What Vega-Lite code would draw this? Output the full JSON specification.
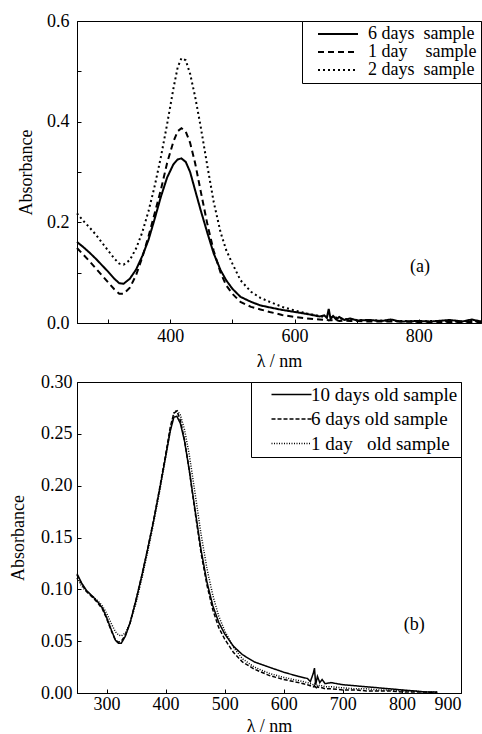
{
  "$schema": "https://vega.github.io/schema/vega-lite/v6.json",
  "padding": {"left": 9, "top": 11, "right": 0, "bottom": 0},
  "config": {
    "font": "Liberation Serif",
    "view": {"stroke": "black", "strokeWidth": 1},
    "axis": {"labelFont": "Liberation Serif", "labelFontSize": 18, "titleFont": "Liberation Serif", "titleFontSize": 18, "titleFontWeight": "normal", "labelColor": "black", "titleColor": "black", "domainColor": "black", "tickColor": "black", "grid": false}
  },
  "datasets": {
    "a": [
      {"wl": 250, "s6": 0.161, "s1": 0.149, "s2": 0.218},
      {"wl": 260, "s6": 0.151, "s1": 0.136, "s2": 0.203},
      {"wl": 270, "s6": 0.140, "s1": 0.123, "s2": 0.190},
      {"wl": 280, "s6": 0.128, "s1": 0.109, "s2": 0.176},
      {"wl": 290, "s6": 0.115, "s1": 0.095, "s2": 0.160},
      {"wl": 300, "s6": 0.102, "s1": 0.081, "s2": 0.144},
      {"wl": 310, "s6": 0.088, "s1": 0.067, "s2": 0.128},
      {"wl": 318, "s6": 0.079, "s1": 0.058, "s2": 0.118},
      {"wl": 325, "s6": 0.078, "s1": 0.058, "s2": 0.116},
      {"wl": 335, "s6": 0.088, "s1": 0.070, "s2": 0.125},
      {"wl": 345, "s6": 0.106, "s1": 0.095, "s2": 0.148},
      {"wl": 355, "s6": 0.133, "s1": 0.130, "s2": 0.180},
      {"wl": 365, "s6": 0.165, "s1": 0.172, "s2": 0.222},
      {"wl": 375, "s6": 0.207, "s1": 0.218, "s2": 0.272},
      {"wl": 385, "s6": 0.251, "s1": 0.265, "s2": 0.330},
      {"wl": 395, "s6": 0.289, "s1": 0.318, "s2": 0.395},
      {"wl": 405, "s6": 0.315, "s1": 0.360, "s2": 0.465},
      {"wl": 412, "s6": 0.325, "s1": 0.381, "s2": 0.508},
      {"wl": 418, "s6": 0.327, "s1": 0.387, "s2": 0.526},
      {"wl": 425, "s6": 0.320, "s1": 0.380, "s2": 0.522},
      {"wl": 432, "s6": 0.300, "s1": 0.358, "s2": 0.495},
      {"wl": 440, "s6": 0.264, "s1": 0.318, "s2": 0.450},
      {"wl": 449, "s6": 0.224, "s1": 0.262, "s2": 0.390},
      {"wl": 460, "s6": 0.178, "s1": 0.195, "s2": 0.310},
      {"wl": 470, "s6": 0.138, "s1": 0.143, "s2": 0.240},
      {"wl": 481, "s6": 0.105, "s1": 0.100, "s2": 0.180},
      {"wl": 490, "s6": 0.085, "s1": 0.075, "s2": 0.145},
      {"wl": 500, "s6": 0.068, "s1": 0.058, "s2": 0.118},
      {"wl": 513, "s6": 0.052, "s1": 0.042, "s2": 0.085},
      {"wl": 530, "s6": 0.042, "s1": 0.032, "s2": 0.062},
      {"wl": 545, "s6": 0.035, "s1": 0.027, "s2": 0.050},
      {"wl": 560, "s6": 0.031, "s1": 0.022, "s2": 0.042},
      {"wl": 580, "s6": 0.026, "s1": 0.016, "s2": 0.032},
      {"wl": 600, "s6": 0.022, "s1": 0.012, "s2": 0.025},
      {"wl": 620, "s6": 0.018, "s1": 0.009, "s2": 0.019},
      {"wl": 640, "s6": 0.013, "s1": 0.007, "s2": 0.014},
      {"wl": 648, "s6": 0.015, "s1": 0.006, "s2": 0.012},
      {"wl": 652, "s6": 0.010, "s1": 0.007, "s2": 0.013},
      {"wl": 655, "s6": 0.028, "s1": 0.005, "s2": 0.011},
      {"wl": 658, "s6": 0.008, "s1": 0.006, "s2": 0.012},
      {"wl": 662, "s6": 0.014, "s1": 0.005, "s2": 0.010},
      {"wl": 667, "s6": 0.007, "s1": 0.006, "s2": 0.011},
      {"wl": 672, "s6": 0.012, "s1": 0.004, "s2": 0.009},
      {"wl": 680, "s6": 0.006, "s1": 0.005, "s2": 0.008},
      {"wl": 690, "s6": 0.009, "s1": 0.004, "s2": 0.007},
      {"wl": 700, "s6": 0.005, "s1": 0.004, "s2": 0.006},
      {"wl": 720, "s6": 0.006, "s1": 0.003, "s2": 0.005},
      {"wl": 740, "s6": 0.004, "s1": 0.003, "s2": 0.005},
      {"wl": 755, "s6": 0.007, "s1": 0.003, "s2": 0.004},
      {"wl": 770, "s6": 0.003, "s1": 0.003, "s2": 0.004},
      {"wl": 800, "s6": 0.004, "s1": 0.002, "s2": 0.003},
      {"wl": 820, "s6": 0.003, "s1": 0.002, "s2": 0.004},
      {"wl": 850, "s6": 0.006, "s1": 0.002, "s2": 0.003},
      {"wl": 870, "s6": 0.003, "s1": 0.002, "s2": 0.003},
      {"wl": 885, "s6": 0.007, "s1": 0.002, "s2": 0.004},
      {"wl": 900, "s6": 0.003, "s1": 0.002, "s2": 0.003}
    ],
    "b": [
      {"wl": 250, "d10": 0.115, "d6": 0.114, "d1": 0.111},
      {"wl": 258, "d10": 0.106, "d6": 0.105, "d1": 0.103},
      {"wl": 266, "d10": 0.099, "d6": 0.098, "d1": 0.098},
      {"wl": 275, "d10": 0.094, "d6": 0.093, "d1": 0.094},
      {"wl": 285, "d10": 0.088, "d6": 0.087, "d1": 0.089},
      {"wl": 293, "d10": 0.082, "d6": 0.081, "d1": 0.084},
      {"wl": 300, "d10": 0.073, "d6": 0.072, "d1": 0.077},
      {"wl": 308, "d10": 0.061, "d6": 0.060, "d1": 0.067},
      {"wl": 315, "d10": 0.051, "d6": 0.051, "d1": 0.059},
      {"wl": 320, "d10": 0.048, "d6": 0.049, "d1": 0.056},
      {"wl": 325, "d10": 0.048, "d6": 0.050, "d1": 0.055},
      {"wl": 332, "d10": 0.055, "d6": 0.056, "d1": 0.058},
      {"wl": 340, "d10": 0.068, "d6": 0.068, "d1": 0.068},
      {"wl": 350, "d10": 0.090, "d6": 0.090, "d1": 0.087},
      {"wl": 360, "d10": 0.114, "d6": 0.114, "d1": 0.111},
      {"wl": 370, "d10": 0.140, "d6": 0.140, "d1": 0.137},
      {"wl": 380, "d10": 0.167, "d6": 0.168, "d1": 0.165},
      {"wl": 390, "d10": 0.197, "d6": 0.198, "d1": 0.195},
      {"wl": 400, "d10": 0.228, "d6": 0.230, "d1": 0.227},
      {"wl": 408, "d10": 0.253, "d6": 0.257, "d1": 0.254},
      {"wl": 414, "d10": 0.266, "d6": 0.270, "d1": 0.270},
      {"wl": 419, "d10": 0.267, "d6": 0.272, "d1": 0.273},
      {"wl": 425, "d10": 0.260, "d6": 0.263, "d1": 0.268},
      {"wl": 432, "d10": 0.243, "d6": 0.244, "d1": 0.254},
      {"wl": 440, "d10": 0.215, "d6": 0.215, "d1": 0.230},
      {"wl": 450, "d10": 0.176, "d6": 0.174, "d1": 0.192},
      {"wl": 460, "d10": 0.138, "d6": 0.135, "d1": 0.153},
      {"wl": 470, "d10": 0.107, "d6": 0.104, "d1": 0.120},
      {"wl": 480, "d10": 0.084, "d6": 0.080, "d1": 0.094},
      {"wl": 490, "d10": 0.068, "d6": 0.063, "d1": 0.074},
      {"wl": 500, "d10": 0.057, "d6": 0.052, "d1": 0.060},
      {"wl": 515, "d10": 0.045, "d6": 0.039, "d1": 0.044},
      {"wl": 530, "d10": 0.037, "d6": 0.030, "d1": 0.033},
      {"wl": 550, "d10": 0.030, "d6": 0.023, "d1": 0.025},
      {"wl": 575, "d10": 0.025, "d6": 0.017, "d1": 0.019},
      {"wl": 600, "d10": 0.020, "d6": 0.013, "d1": 0.015},
      {"wl": 625, "d10": 0.016, "d6": 0.010, "d1": 0.012},
      {"wl": 640, "d10": 0.014, "d6": 0.008, "d1": 0.010},
      {"wl": 645, "d10": 0.011, "d6": 0.007, "d1": 0.009},
      {"wl": 650, "d10": 0.019, "d6": 0.006, "d1": 0.008},
      {"wl": 652, "d10": 0.024, "d6": 0.007, "d1": 0.009},
      {"wl": 654, "d10": 0.008, "d6": 0.004, "d1": 0.006},
      {"wl": 657, "d10": 0.016, "d6": 0.006, "d1": 0.008},
      {"wl": 661, "d10": 0.010, "d6": 0.005, "d1": 0.007},
      {"wl": 665, "d10": 0.013, "d6": 0.005, "d1": 0.007},
      {"wl": 670, "d10": 0.009, "d6": 0.004, "d1": 0.006},
      {"wl": 680, "d10": 0.010, "d6": 0.004, "d1": 0.006},
      {"wl": 700, "d10": 0.008, "d6": 0.003, "d1": 0.005},
      {"wl": 720, "d10": 0.007, "d6": 0.003, "d1": 0.004},
      {"wl": 740, "d10": 0.006, "d6": 0.002, "d1": 0.004},
      {"wl": 760, "d10": 0.005, "d6": 0.002, "d1": 0.003},
      {"wl": 780, "d10": 0.004, "d6": 0.002, "d1": 0.003},
      {"wl": 800, "d10": 0.003, "d6": 0.001, "d1": 0.002},
      {"wl": 820, "d10": 0.002, "d6": 0.001, "d1": 0.002},
      {"wl": 840, "d10": 0.001, "d6": 0.001, "d1": 0.001},
      {"wl": 860, "d10": 0.001, "d6": 0.000, "d1": 0.001}
    ]
  },
  "spacing": 1,
  "resolve": {"scale": {"strokeDash": "independent"}, "legend": {"strokeDash": "independent"}},
  "vconcat": [
    {
      "width": 404,
      "height": 302,
      "layer": [
        {
          "data": {"name": "a"},
          "transform": [{"fold": ["s6", "s1", "s2"], "as": ["k", "v"]}],
          "mark": {"type": "line", "strokeWidth": 2, "color": "black"},
          "encoding": {
            "x": {"field": "wl", "type": "quantitative", "scale": {"domain": [250, 900], "nice": false, "zero": false},
              "axis": {"title": "λ / nm", "values": [300, 400, 500, 600, 700, 800, 900], "format": "d", "labelExpr": "datum.value % 200 === 0 ? datum.label : ''", "tickSize": -4, "labelPadding": 8, "titlePadding": 7}},
            "y": {"field": "v", "type": "quantitative", "scale": {"domain": [0, 0.6], "nice": false},
              "axis": {"title": "Absorbance", "values": [0, 0.1, 0.2, 0.3, 0.4, 0.5, 0.6], "format": ".1f", "labelExpr": "round(datum.value * 10) % 2 === 0 ? datum.label : ''", "tickSize": -4, "labelPadding": 12, "titlePadding": 11}},
            "strokeDash": {"field": "k", "type": "nominal",
              "scale": {"domain": ["s6", "s1", "s2"], "range": [[1, 0], [6, 4], [2, 3]]},
              "legend": {"title": null, "orient": "top-right", "offset": 0, "strokeColor": "black", "fillColor": "white", "padding": 4,
                "labelFont": "Liberation Serif", "labelFontSize": 18, "labelColor": "black",
                "symbolType": "M-2.5,0H2.5", "symbolSize": 256, "symbolStrokeWidth": 2, "symbolStrokeColor": "black", "symbolOffset": 23, "rowPadding": 0, "labelOffset": 21,
                "labelExpr": "datum.label === 's6' ? '6 days\u00a0 sample\u00a0\u00a0\u00a0\u00a0' : datum.label === 's1' ? '1 day\u00a0\u00a0\u00a0 sample\u00a0\u00a0\u00a0\u00a0' : '2 days\u00a0 sample\u00a0\u00a0\u00a0\u00a0'"}}
          }
        },
        {
          "data": {"values": [{}]},
          "mark": {"type": "text", "font": "Liberation Serif", "fontSize": 18, "fontWeight": "normal", "fill": "black"},
          "encoding": {"x": {"datum": 802}, "y": {"datum": 0.111}, "text": {"value": "(a)"}}
        }
      ]
    },
    {
      "width": 384,
      "height": 311,
      "layer": [
        {
          "data": {"name": "b"},
          "transform": [{"fold": ["d10", "d6", "d1"], "as": ["k", "v"]}],
          "mark": {"type": "line", "strokeWidth": 1.5, "color": "black"},
          "encoding": {
            "x": {"field": "wl", "type": "quantitative", "scale": {"domain": [250, 900], "nice": false, "zero": false},
              "axis": {"title": "λ / nm", "values": [300, 350, 400, 450, 500, 550, 600, 650, 700, 750, 800, 850, 900], "format": "d", "labelExpr": "datum.value % 100 === 0 ? datum.label : ''", "tickSize": -4, "labelPadding": 6, "titlePadding": 4}},
            "y": {"field": "v", "type": "quantitative", "scale": {"domain": [0, 0.3], "nice": false},
              "axis": {"title": "Absorbance", "values": [0, 0.025, 0.05, 0.075, 0.1, 0.125, 0.15, 0.175, 0.2, 0.225, 0.25, 0.275, 0.3], "format": ".2f", "labelExpr": "round(datum.value * 1000) % 50 === 0 ? datum.label : ''", "tickSize": -4, "labelPadding": 9, "titlePadding": 13}},
            "strokeDash": {"field": "k", "type": "nominal",
              "scale": {"domain": ["d10", "d6", "d1"], "range": [[1, 0], [4, 2], [1, 1.5]]},
              "legend": {"title": null, "orient": "top-right", "offset": 0, "strokeColor": "black", "fillColor": "white", "padding": 3,
                "labelFont": "Liberation Serif", "labelFontSize": 19, "labelColor": "black",
                "symbolType": "M-2.5,0H2.5", "symbolSize": 256, "symbolStrokeWidth": 1.6, "symbolStrokeColor": "black", "symbolOffset": 28, "rowPadding": 4.5, "labelOffset": 10,
                "labelExpr": "datum.label === 'd10' ? '10 days old sample\u00a0\u00a0\u00a0' : datum.label === 'd6' ? '\u00a06 days old sample\u00a0\u00a0\u00a0' : '\u00a01 day\u00a0\u00a0 old sample\u00a0\u00a0\u00a0'"}}
          }
        },
        {
          "data": {"values": [{}]},
          "mark": {"type": "text", "font": "Liberation Serif", "fontSize": 18, "fontWeight": "normal", "fill": "black"},
          "encoding": {"x": {"datum": 821}, "y": {"datum": 0.0655}, "text": {"value": "(b)"}}
        }
      ]
    }
  ]
}
